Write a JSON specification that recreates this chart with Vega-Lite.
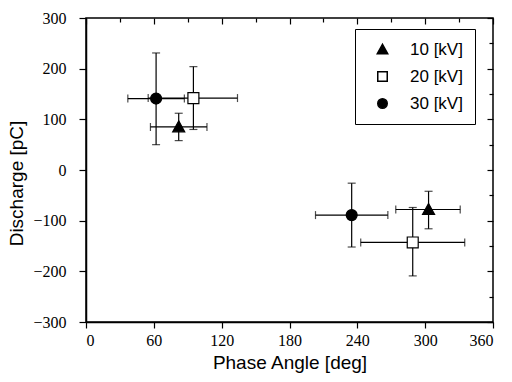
{
  "$schema": "https://vega.github.io/schema/vega-lite/v6.json",
  "autosize": {"type": "none"},
  "padding": {"left": 86, "top": 18, "right": 19, "bottom": 60},
  "width": 407,
  "height": 304,
  "background": "white",
  "config": {
    "view": {"stroke": "black", "strokeWidth": 1.5},
    "axis": {
      "domainColor": "black", "domainWidth": 1.5, "tickColor": "black", "tickWidth": 1.2,
      "labelColor": "black", "titleColor": "black", "grid": false,
      "labelFont": "Liberation Sans Narrow", "labelFontSize": 16,
      "titleFont": "Liberation Sans", "titleFontSize": 19, "titleFontWeight": "normal"
    },
    "legend": {"labelFont": "Liberation Sans", "labelFontSize": 17, "labelColor": "black"}
  },
  "data": {
    "values": [
      {"series": "10 [kV]", "x": 82, "y": 85, "xlo": 57, "xhi": 107, "ylo": 58, "yhi": 112},
      {"series": "10 [kV]", "x": 303, "y": -78, "xlo": 274, "xhi": 331, "ylo": -116, "yhi": -42},
      {"series": "20 [kV]", "x": 95, "y": 142, "xlo": 55, "xhi": 134, "ylo": 80, "yhi": 204},
      {"series": "20 [kV]", "x": 289, "y": -143, "xlo": 243, "xhi": 335, "ylo": -209, "yhi": -74},
      {"series": "30 [kV]", "x": 62, "y": 141, "xlo": 37, "xhi": 87, "ylo": 50, "yhi": 231},
      {"series": "30 [kV]", "x": 235, "y": -89, "xlo": 203, "xhi": 267, "ylo": -152, "yhi": -26}
    ]
  },
  "resolve": {"axis": {"x": "independent", "y": "independent"}},
  "layer": [
    {
      "mark": {"type": "point", "opacity": 0},
      "encoding": {
        "x": {"field": "x", "type": "quantitative", "scale": {"domain": [0, 360], "nice": false},
          "axis": {"orient": "top", "values": [0,30,60,90,120,150,180,210,240,270,300,330,360], "labels": false, "title": null, "domain": false,
            "tickSize": {"condition": {"test": "datum.value % 60 === 0", "value": -6}, "value": -4}}},
        "y": {"field": "y", "type": "quantitative", "scale": {"domain": [-300, 300], "nice": false},
          "axis": {"orient": "right", "values": [-300,-250,-200,-150,-100,-50,0,50,100,150,200,250,300], "labels": false, "title": null, "domain": false,
            "tickSize": {"condition": {"test": "datum.value % 100 === 0", "value": -6}, "value": -4}}}
      }
    },
    {
      "layer": [
        {
          "mark": {"type": "errorbar", "ticks": {"size": 8}, "color": "black", "thickness": 1.2},
          "encoding": {
            "x": {"field": "xlo", "type": "quantitative", "title": "Phase Angle [deg]", "scale": {"domain": [0, 360], "nice": false},
              "axis": {"orient": "bottom", "title": "Phase Angle [deg]", "values": [0,30,60,90,120,150,180,210,240,270,300,330,360],
                "labelExpr": "datum.value % 60 === 0 ? datum.label : ''", "labelPadding": 4, "titlePadding": 5,
                "tickSize": {"condition": {"test": "datum.value % 60 === 0", "value": 6}, "value": 4}}},
            "x2": {"field": "xhi"},
            "y": {"field": "y", "type": "quantitative", "title": "Discharge [pC]", "scale": {"domain": [-300, 300], "nice": false},
              "axis": {"orient": "left", "title": "Discharge [pC]", "values": [-300,-250,-200,-150,-100,-50,0,50,100,150,200,250,300],
                "labelExpr": "datum.value % 100 === 0 ? datum.label : ''", "labelPadding": 13, "titlePadding": 6, "titleY": 165,
                "tickSize": {"condition": {"test": "datum.value % 100 === 0", "value": 7}, "value": 4}}}
          }
        },
        {
          "mark": {"type": "errorbar", "ticks": {"size": 8}, "color": "black", "thickness": 1.2},
          "encoding": {
            "y": {"field": "ylo", "type": "quantitative", "title": "Discharge [pC]"},
            "y2": {"field": "yhi"},
            "x": {"field": "x", "type": "quantitative", "title": "Phase Angle [deg]"}
          }
        },
        {
          "mark": {"type": "point", "stroke": "black", "strokeWidth": 1.2, "opacity": 1, "size": 120},
          "encoding": {
            "x": {"field": "x", "type": "quantitative", "title": "Phase Angle [deg]"},
            "y": {"field": "y", "type": "quantitative", "title": "Discharge [pC]"},
            "shape": {"field": "series", "type": "nominal", "title": null,
              "scale": {"domain": ["10 [kV]", "20 [kV]", "30 [kV]"], "range": ["M0,-1.1L1.1,0.9L-1.1,0.9Z", "square", "circle"]},
              "legend": {"orient": "none", "legendX": 269, "legendY": 11, "strokeColor": "black", "padding": 12, "rowPadding": 9,
                "symbolSize": 90, "symbolOffset": 7, "labelOffset": 19,
                "encode": {"symbols": {"update": {"stroke": {"value": "black"}, "strokeWidth": {"value": 1.2}}}}}},
            "fill": {"field": "series", "type": "nominal", "title": null,
              "scale": {"domain": ["10 [kV]", "20 [kV]", "30 [kV]"], "range": ["black", "white", "black"]}}
          }
        }
      ]
    }
  ]
}
